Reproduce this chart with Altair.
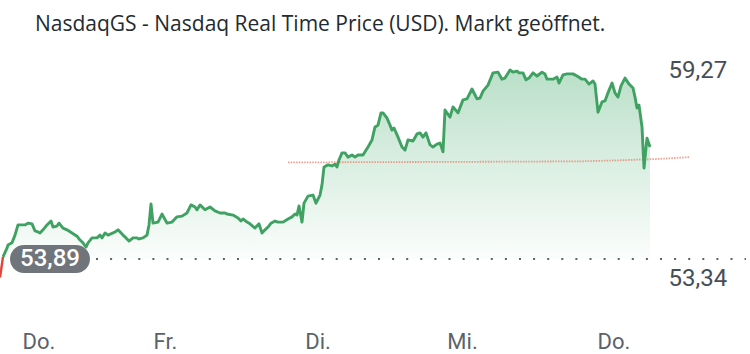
import altair as alt
import pandas as pd

TITLE = "NasdaqGS - Nasdaq Real Time Price (USD). Markt geöffnet."
DAY_LABELS = ["Do.", "Fr.", "Di.", "Mi.", "Do."]
DAY_TICKS = [38.5, 165, 317.5, 462, 613.5]
PREV_CLOSE = 53.89
RANGE_LABELS = [53.34, 59.27]

# time position (chart units) and price of the intraday series
t = [3, 7, 8, 12, 15, 18, 25, 28, 32, 35, 38, 40, 43, 47, 51, 53, 57, 59, 63, 67,
     72, 77, 80, 83, 86, 88, 92, 97, 100, 102, 105, 108, 115, 118, 123, 126, 129, 133, 137, 139,
     143, 147, 149, 151, 153, 158, 162, 167, 172, 177, 182, 187, 191, 195, 197, 200, 205, 210, 215, 220,
     225, 227, 233, 238, 241, 243, 247, 250, 255, 259, 262, 265, 268, 271, 275, 278, 283, 288, 292, 295,
     297, 299, 302, 304, 308, 313, 316, 320, 322, 324, 328, 332, 335, 337, 339, 342, 345, 348, 352, 355,
     358, 363, 368, 372, 375, 378, 381, 383, 387, 390, 392, 394, 398, 402, 405, 408, 413, 417, 420, 423,
     426, 430, 433, 437, 440, 443, 445, 450, 453, 458, 463, 467, 472, 477, 480, 483, 488, 493, 498, 502,
     505, 510, 513, 517, 519, 523, 526, 529, 533, 537, 542, 545, 547, 553, 557, 559, 563, 567, 573, 577,
     582, 585, 589, 593, 595, 598, 602, 605, 608, 612, 615, 618, 621, 625, 629, 633, 635, 637, 639, 642,
     644, 647, 650]
price = [53.95, 54.20, 54.29, 54.35, 54.57, 54.86, 54.86, 54.91, 54.89, 54.69, 54.66, 54.63, 54.72, 54.86, 54.97, 54.80, 54.83, 54.91, 54.77, 54.72,
         54.63, 54.54, 54.43, 54.35, 54.23, 54.35, 54.49, 54.49, 54.57, 54.49, 54.63, 54.57, 54.66, 54.72, 54.57, 54.49, 54.40, 54.49, 54.49, 54.46,
         54.49, 54.57, 54.86, 55.46, 54.91, 54.94, 55.17, 54.91, 54.94, 55.09, 55.11, 55.20, 55.43, 55.37, 55.29, 55.43, 55.29, 55.37, 55.26, 55.20,
         55.20, 55.17, 55.14, 55.06, 54.97, 55.03, 54.94, 54.89, 54.77, 54.89, 54.63, 54.72, 54.80, 54.91, 54.97, 54.94, 54.94, 55.03, 55.09, 55.17,
         55.14, 55.40, 54.94, 55.48, 55.68, 55.71, 55.48, 55.71, 56.00, 56.51, 56.57, 56.54, 56.59, 56.51, 56.71, 56.91, 56.91, 56.79, 56.85, 56.79,
         56.85, 56.85, 57.08, 57.28, 57.65, 57.70, 58.05, 58.05, 57.90, 57.70, 57.56, 57.62, 57.36, 57.08, 56.99, 57.28, 57.25, 57.45, 57.48, 57.36,
         57.48, 57.14, 57.08, 57.16, 57.19, 56.94, 58.13, 57.93, 58.22, 58.05, 58.42, 58.45, 58.73, 58.45, 58.47, 58.67, 58.84, 59.19, 59.21, 59.01,
         59.04, 59.27, 59.21, 59.24, 59.19, 59.19, 58.99, 59.04, 59.19, 59.10, 59.21, 59.16, 59.01, 59.01, 59.07, 58.90, 59.13, 59.16, 59.16, 59.10,
         59.01, 59.01, 58.87, 58.96, 58.87, 58.07, 58.36, 58.39, 58.62, 58.90, 58.62, 58.50, 58.82, 59.04, 58.87, 58.76, 58.50, 58.19, 58.27, 57.65,
         56.48, 57.33, 57.08]

# pre-period segment (red)
pre_t = [0, 3]
pre_price = [53.36, 53.95]

# reference (red dotted) line
ref_t = [288, 400, 500, 580, 620, 660, 690]
ref_price = [56.64, 56.65, 56.66, 56.67, 56.70, 56.74, 56.79]

# previous-close dotted line and its pill label
close_t = [96, 746]
pill_t = [10, 90]
pill_center_t = 50

df = pd.DataFrame({"t": t, "price": price, "base": [PREV_CLOSE] * len(t)})
pre_df = pd.DataFrame({"t": pre_t, "price": pre_price})
ref_df = pd.DataFrame({"t": ref_t, "price": ref_price})
close_df = pd.DataFrame({"t": close_t, "price": [PREV_CLOSE] * 2})
pill_df = pd.DataFrame({"t": [pill_t[0]], "t2": [pill_t[1]],
                        "lo": [PREV_CLOSE - 0.40], "hi": [PREV_CLOSE + 0.40],
                        "tc": [pill_center_t], "price": [PREV_CLOSE],
                        "label": [f"{PREV_CLOSE:.2f}".replace(".", ",")]})

xscale = alt.Scale(domain=[0, 660], nice=False, zero=False)
yscale = alt.Scale(domain=[52.153, 60.125], nice=False, zero=False)

tick_expr = " : ".join(
    [f"datum.value < {(DAY_TICKS[i] + DAY_TICKS[i + 1]) / 2} ? '{DAY_LABELS[i]}'" for i in range(len(DAY_TICKS) - 1)]
) + f" : '{DAY_LABELS[-1]}'"

x_axis = alt.Axis(values=DAY_TICKS, labelExpr=tick_expr, domain=False, ticks=False, grid=False,
                  labelFontSize=22, labelColor="#5b636a", labelFont="Roboto", labelPadding=11,
                  labelAlign="center", title=None)
y_axis = alt.Axis(orient="right", values=RANGE_LABELS,
                  labelExpr="replace(format(datum.value, '.2f'), '.', ',')",
                  domain=False, ticks=False, grid=False, labelFontSize=24, labelColor="#464e56",
                  labelFont="Roboto", labelPadding=8, labelAlign="left", labelBaseline="middle", title=None)

grad = alt.Gradient(gradient="linear",
                    stops=[alt.GradientStop(color="rgba(64,168,104,0.36)", offset=0),
                           alt.GradientStop(color="rgba(64,168,104,0.02)", offset=1)],
                    x1=1, x2=1, y1=0, y2=1)

area = alt.Chart(df).mark_area(color=grad).encode(
    x=alt.X("t:Q", scale=xscale, axis=x_axis),
    y=alt.Y("price:Q", scale=yscale, axis=y_axis),
    y2="base:Q",
)
line = alt.Chart(df).mark_line(color="#3fa262", strokeWidth=2.9, strokeJoin="round").encode(
    x=alt.X("t:Q", scale=xscale), y=alt.Y("price:Q", scale=yscale))
pre = alt.Chart(pre_df).mark_line(color="#e0453a", strokeWidth=2.4).encode(
    x=alt.X("t:Q", scale=xscale), y=alt.Y("price:Q", scale=yscale))
ref = alt.Chart(ref_df).mark_line(color="#e48a76", strokeWidth=1.8, strokeDash=[1.5, 1.2], opacity=0.8).encode(
    x=alt.X("t:Q", scale=xscale), y=alt.Y("price:Q", scale=yscale))
close = alt.Chart(close_df).mark_line(color="#5b636a", strokeWidth=2, strokeDash=[2, 12.1]).encode(
    x=alt.X("t:Q", scale=xscale), y=alt.Y("price:Q", scale=yscale))
pill = alt.Chart(pill_df).mark_rect(color="#70747b", cornerRadius=14).encode(
    x=alt.X("t:Q", scale=xscale), x2="t2:Q",
    y=alt.Y("lo:Q", scale=yscale), y2="hi:Q")
pill_text = alt.Chart(pill_df).mark_text(color="white", fontSize=24, font="Roboto", fontWeight=500,
                                          align="center", baseline="middle").encode(
    x=alt.X("tc:Q", scale=xscale), y=alt.Y("price:Q", scale=yscale), text="label:N")

chart = alt.layer(area, ref, close, line, pre, pill, pill_text).properties(
    width=660, height=280,
    padding={"top": 40, "left": 0, "right": 90, "bottom": 34},
    autosize=alt.AutoSizeParams(type="none"),
    title=alt.TitleParams(TITLE, anchor="start", frame="group", dx=35, dy=-1, fontSize=21,
                          fontWeight="normal", font="Open Sans", color="#232a31"),
).configure(background="white", view=alt.ViewConfig(strokeWidth=0))

chart.save("out.html", embed_options={"renderer": "svg", "actions": False})
